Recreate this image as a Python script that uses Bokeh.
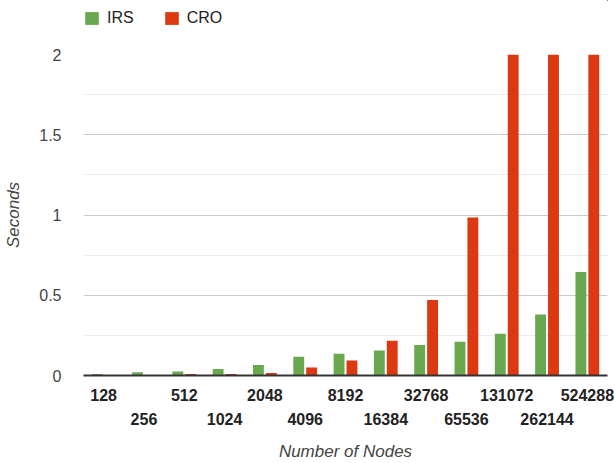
from bokeh.plotting import figure
from bokeh.layouts import column
from bokeh.models import (ColumnDataSource, FactorRange, CategoricalAxis, Legend, LegendItem,
                          SingleIntervalTicker, Range1d, CustomJSTickFormatter)
from bokeh.transform import dodge
from bokeh.embed import file_html
from bokeh.resources import INLINE

nodes = ["128", "256", "512", "1024", "2048", "4096", "8192", "16384",
         "32768", "65536", "131072", "262144", "524288"]
irs = [0.01, 0.02, 0.025, 0.04, 0.065, 0.117, 0.136, 0.155, 0.19, 0.21, 0.26, 0.38, 0.645]
cro = [0.002, 0.002, 0.01, 0.01, 0.015, 0.05, 0.093, 0.217, 0.47, 0.985, 2.0, 2.0, 2.0]
series_names = ["IRS", "CRO"]
y_ticks = [0, 0.5, 1, 1.5, 2]
y_tick_labels = ["0", "0.5", "1", "1.5", "2"]
row1_labels = nodes[0::2]
row2_labels = nodes[1::2]

FONT = "Liberation Sans"
GREEN = "#6aa84f"
RED = "#dc3912"

src = ColumnDataSource(dict(nodes=nodes, irs=irs, cro=cro))

# ---- legend strip (separate small figure above the chart; its bars are out of view) ----
leg = figure(width=615, height=44, x_range=FactorRange(factors=nodes), y_range=Range1d(-2, -1),
             output_backend="svg", toolbar_location=None,
             min_border_left=0, min_border_right=0, min_border_top=0, min_border_bottom=0)
leg.axis.visible = False
leg.grid.visible = False
leg.outline_line_color = None
lg = leg.vbar(x=dodge("nodes", 40, range=leg.x_range), top="irs", width=0.27, source=src,
              fill_color=GREEN, line_color=None)
lr = leg.vbar(x=dodge("nodes", 40, range=leg.x_range), top="cro", width=0.27, source=src,
              fill_color=RED, line_color=None)
legend = Legend(items=[LegendItem(label=series_names[0], renderers=[lg]),
                       LegendItem(label=series_names[1], renderers=[lr])],
                orientation="horizontal", location=(0, 17),
                glyph_width=17, glyph_height=16, label_standoff=7, spacing=29,
                padding=0, margin=0, border_line_color=None, background_fill_alpha=0,
                label_text_font=FONT, label_text_font_size="16px", label_text_color="#222222")
leg.add_layout(legend, "center")

# ---- main chart ----
p = figure(width=615, height=419, x_range=FactorRange(factors=nodes),
           y_range=Range1d(0, 2), output_backend="svg", toolbar_location=None,
           min_border_left=83, min_border_right=8, min_border_top=10, min_border_bottom=87)
p.outline_line_color = None
p.background_fill_color = "white"

p.vbar(x=dodge("nodes", -0.16, range=p.x_range), top="irs", width=0.27,
       source=src, fill_color=GREEN, line_color=None)
p.vbar(x=dodge("nodes", 0.16, range=p.x_range), top="cro", width=0.27,
       source=src, fill_color=RED, line_color=None)

# y axis
p.yaxis.ticker = SingleIntervalTicker(interval=0.5, num_minor_ticks=2)
p.yaxis.major_label_overrides = {t: l for t, l in zip(y_ticks, y_tick_labels)}
p.yaxis.axis_line_color = None
p.yaxis.major_tick_line_color = None
p.yaxis.minor_tick_line_color = None
p.yaxis.major_label_text_font = FONT
p.yaxis.major_label_text_font_size = "16px"
p.yaxis.major_label_text_color = "#444444"
p.yaxis.major_label_standoff = 16
p.yaxis.axis_label = "Seconds"
p.yaxis.axis_label_text_font = FONT
p.yaxis.axis_label_text_font_style = "italic"
p.yaxis.axis_label_text_font_size = "17px"
p.yaxis.axis_label_text_color = "#444444"
p.yaxis.axis_label_standoff = 13

p.xgrid.grid_line_color = None
p.ygrid.grid_line_color = "#cccccc"
p.ygrid.minor_grid_line_color = "#ebebeb"

fmt_code = "return shown.includes(tick) ? tick : '';"

# x axes: two rows of alternating labels
ax1 = p.xaxis[0]
ax1.formatter = CustomJSTickFormatter(args=dict(shown=row1_labels), code=fmt_code)
ax1.axis_line_color = "#333333"
ax1.axis_line_width = 2
ax1.major_tick_line_color = None
ax1.minor_tick_line_color = None
ax1.major_label_text_font = FONT
ax1.major_label_text_font_size = "16px"
ax1.major_label_text_font_style = "bold"
ax1.major_label_text_color = "#222222"
ax1.major_label_standoff = 7

ax2 = CategoricalAxis()
ax2.formatter = CustomJSTickFormatter(args=dict(shown=row2_labels), code=fmt_code)
ax2.axis_line_color = None
ax2.major_tick_line_color = None
ax2.minor_tick_line_color = None
ax2.major_label_text_font = FONT
ax2.major_label_text_font_size = "16px"
ax2.major_label_text_font_style = "bold"
ax2.major_label_text_color = "#222222"
ax2.major_label_standoff = 3
ax2.axis_label = "Number of Nodes"
ax2.axis_label_text_font = FONT
ax2.axis_label_text_font_style = "italic"
ax2.axis_label_text_font_size = "17px"
ax2.axis_label_text_color = "#444444"
ax2.axis_label_standoff = 14
p.add_layout(ax2, "below")

layout = column(leg, p, spacing=0)
open("out.html", "w").write(file_html(layout, INLINE))
